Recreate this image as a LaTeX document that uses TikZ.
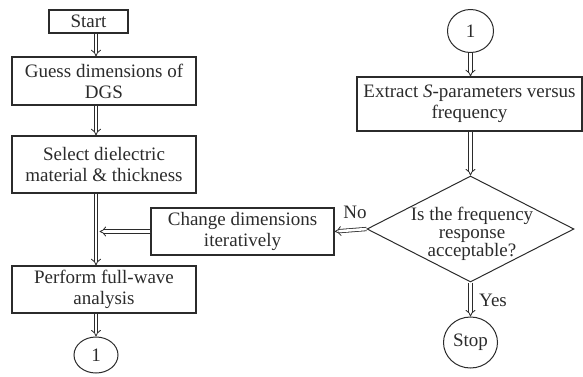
\documentclass[tikz,border=0pt]{standalone}
\usepackage{fontspec}
\setmainfont{Liberation Serif}
\usetikzlibrary{arrows.meta,shapes.geometric}
\definecolor{ink}{HTML}{2B2B2B}
\begin{document}
\begin{tikzpicture}[x=1pt,y=-1pt,
  every node/.style={text=ink,font=\fontsize{19}{21}\selectfont},
  box/.style={draw=ink,line width=1.2pt,rectangle,inner sep=0pt,align=center},
  conn/.style={draw=ink,line width=1pt,ellipse,inner sep=0pt},
  dec/.style={draw=ink,line width=1pt,diamond,inner sep=0pt},
  dbl/.style={draw=ink,line width=0.8pt,double=white,double distance=2.6pt,-{Implies[length=7pt,width=11pt]}},
  lbl/.style={inner sep=1pt}]
\useasboundingbox (0,0) rectangle (583,376);
\node[box,minimum width=79pt,minimum height=23pt] (start) at (88.5,21.5) {Start};
\node[box,minimum width=184pt,minimum height=48pt] (guess) at (104,81) {Guess dimensions of\\DGS};
\node[box,minimum width=184pt,minimum height=57pt] (select) at (104,164.5) {Select dielectric\\material \& thickness};
\node[box,minimum width=183pt,minimum height=47pt] (change) at (242.5,231.5) {Change dimensions\\iteratively};
\node[box,minimum width=184pt,minimum height=47pt] (perform) at (104,289.5) {Perform full-wave\\analysis};
\node[conn,minimum width=44pt,minimum height=36pt] (c1b) at (96,355) {1};
\node[conn,minimum width=46pt,minimum height=43pt] (c1t) at (470.5,31) {1};
\node[box,minimum width=225pt,minimum height=54pt] (extract) at (469.5,104) {Extract \textit{S}-parameters versus\\frequency};
\node[dec,minimum width=207pt,minimum height=106pt] (dia) at (470.5,229) {};
\node[align=center,inner sep=0pt,font=\fontsize{19}{18}\selectfont] (diatext) at (472,234) {Is the frequency\\response\\acceptable?};
\node[conn,minimum width=54pt,minimum height=51pt] (stop) at (470.5,342.5) {Stop};
\draw[dbl] (start.south -| c1b.center) -- (guess.north -| c1b.center);
\draw[dbl] (guess.south -| c1b.center) -- (select.north -| c1b.center);
\draw[dbl] (select.south -| c1b.center) -- (perform.north -| c1b.center);
\draw[dbl] (perform.south -| c1b.center) -- (c1b.north);
\draw[dbl] (change.west) -- ([xshift=3.5pt]change.west -| c1b.center);
\draw[dbl] (dia.west) -- (change.east);
\draw[dbl] (c1t.south) -- (extract.north -| c1t.south);
\draw[dbl] (extract.south -| dia.north) -- (dia.north);
\draw[dbl] (dia.south) -- (stop.north);
\node[lbl] (no) at (355,212) {No};
\node[lbl] (yes) at (493,300) {Yes};
\end{tikzpicture}
\end{document}
